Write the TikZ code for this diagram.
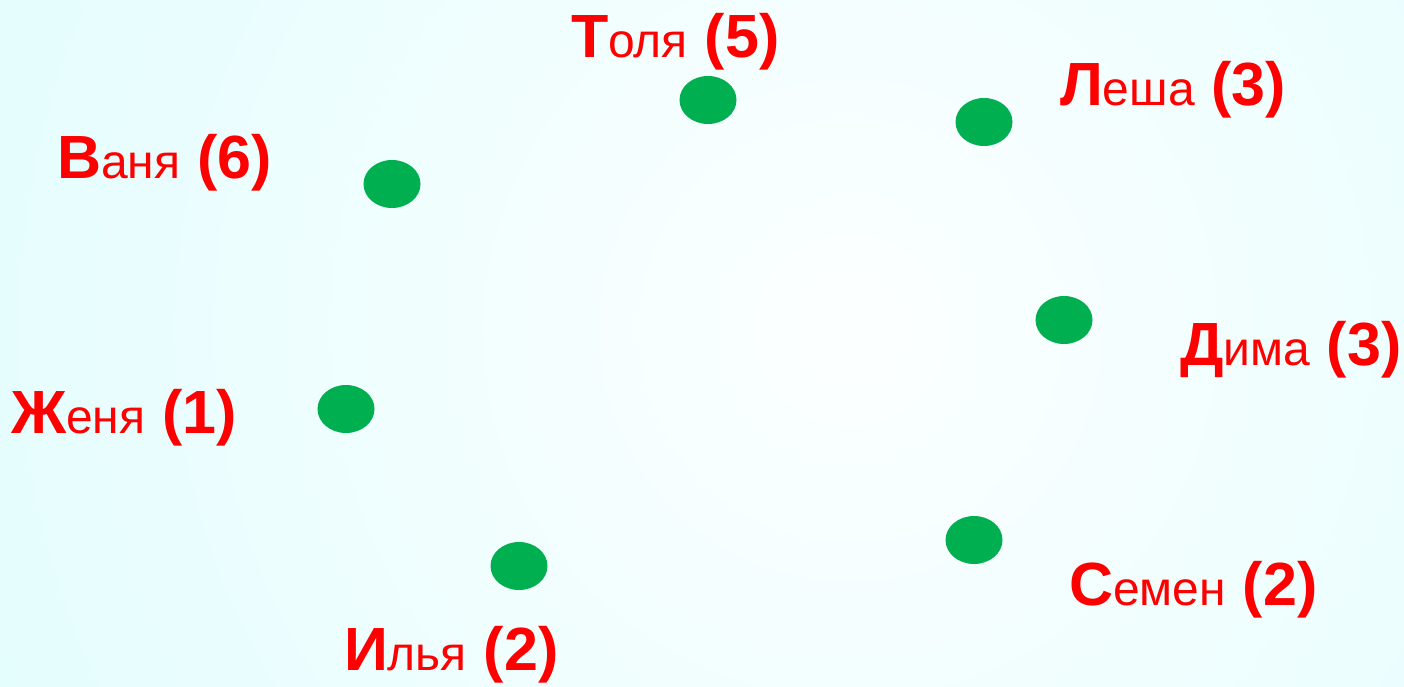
\documentclass[tikz,border=0pt]{standalone}
\usepackage{fontspec}
\setmainfont{Liberation Sans}
\usetikzlibrary{shapes.geometric}
\definecolor{dotgreen}{RGB}{0,176,80}
\definecolor{lblred}{RGB}{255,0,0}
\definecolor{bgout}{RGB}{208,251,252}
\definecolor{bgin}{RGB}{252,255,255}
\newcommand{\namelab}[3]{{\bfseries\fontsize{61}{61}\selectfont #1}{\fontsize{48}{48}\selectfont #2}{\bfseries\fontsize{61}{61}\selectfont\ (#3)}}
\tikzset{
  dot/.style={ellipse, fill=dotgreen, draw=none, minimum width=57pt, minimum height=48pt, inner sep=0pt},
  lbl/.style={anchor=base west, inner sep=0pt, outer sep=0pt, text=lblred}
}
\begin{document}
\begin{tikzpicture}[x=1pt,y=-1pt]
\useasboundingbox (0,0) rectangle (1404,686);
\begin{scope}
\clip (0,0) rectangle (1404,686);
\shade[inner color=bgin, outer color=bgout] (850,330) circle (1700);
\end{scope}
% dots
\node[dot] (tolya) at (708,100) {};
\node[dot] (lesha) at (984,122) {};
\node[dot] (vanya) at (392,184) {};
\node[dot] (dima)  at (1064,320) {};
\node[dot] (zhenya) at (346,409) {};
\node[dot] (semen) at (974,540) {};
\node[dot] (ilya)  at (519,566) {};
% labels
\node[lbl] (ltolya) at (571,57) {\namelab{Т}{оля}{5}};
\node[lbl] (llesha) at (1060,105) {\namelab{Л}{еша}{3}};
\node[lbl] (lvanya) at (57,178) {\namelab{В}{аня}{6}};
\node[lbl] (ldima) at (1180,365) {\namelab{Д}{има}{3}};
\node[lbl] (lzhenya) at (11,433) {\namelab{Ж}{еня}{1}};
\node[lbl] (lsemen) at (1069,605) {\namelab{С}{емен}{2}};
\node[lbl] (lilya) at (344,670) {\namelab{И}{лья}{2}};
\end{tikzpicture}
\end{document}
